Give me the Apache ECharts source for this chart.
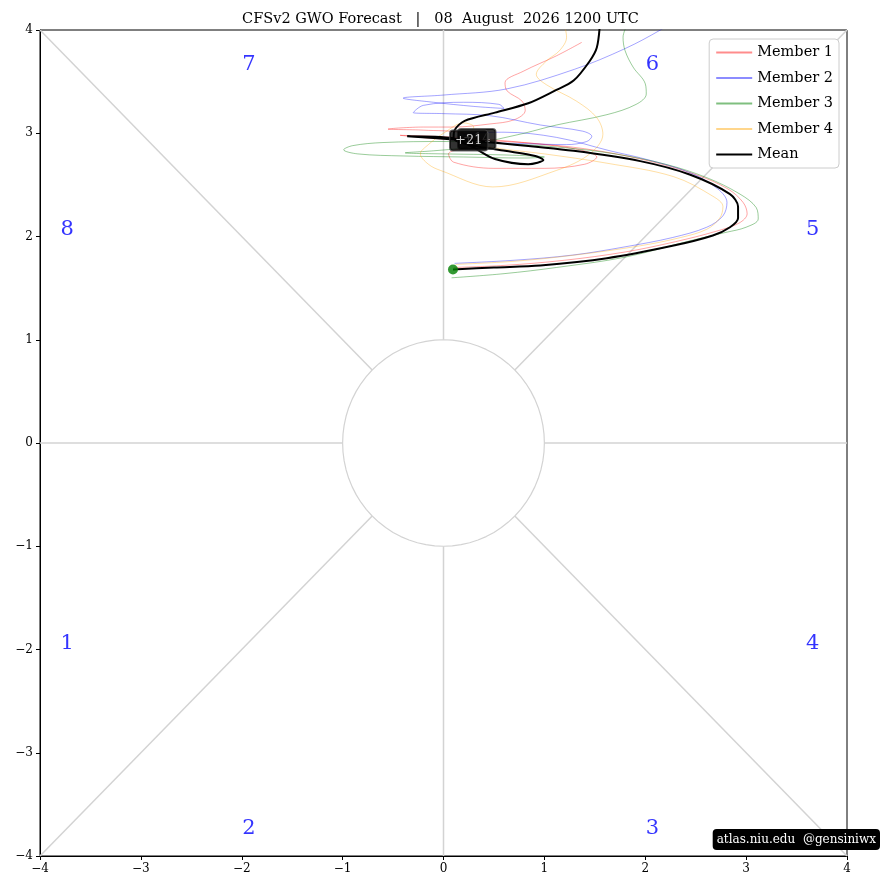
<!DOCTYPE html>
<html>
<head>
<meta charset="utf-8">
<script src="https://cdn.jsdelivr.net/npm/echarts@6/dist/echarts.min.js"></script>
<style>
html, body { margin: 0; padding: 0; background: #fff; }
#gwo { width: 881px; height: 890px; }
</style>
</head>
<body>
<div id="gwo"></div>
<script>
// ensemble member tracks (x, y)
var member1 = [[0.10,1.70],[0.6,1.72],[1.2,1.77],[1.8,1.85],[2.3,1.95],[2.7,2.05],[2.93,2.13],[3.01,2.22],[2.97,2.33],[2.82,2.46],[2.5,2.6],[2.0,2.74],[1.4,2.85],[0.8,2.91],[0.3,2.95],[-0.1,2.97],[-0.43,2.98],[-0.1,2.95],[0.4,2.93],[0.9,2.9],[1.35,2.84],[1.52,2.77],[1.4,2.7],[1.0,2.66],[0.5,2.66],[0.1,2.72],[0.05,2.8],[0.3,2.9],[0.2,3.0],[-0.2,3.03],[-0.55,3.04],[-0.2,3.06],[0.1,3.06],[0.46,3.09],[0.7,3.13],[0.81,3.22],[0.78,3.31],[0.63,3.41],[0.61,3.49],[0.79,3.60],[1.12,3.75],[1.37,3.88]];
var member2 = [[0.11,1.74],[0.7,1.77],[1.28,1.82],[1.8,1.9],[2.27,1.99],[2.61,2.09],[2.77,2.2],[2.81,2.33],[2.72,2.46],[2.44,2.62],[2.0,2.75],[1.65,2.83],[1.12,2.96],[0.6,3.01],[0.2,2.98],[0.3,2.92],[0.8,2.9],[1.22,2.89],[1.42,2.92],[1.47,2.97],[1.38,3.02],[0.96,3.08],[0.46,3.17],[0.0,3.19],[-0.3,3.2],[-0.2,3.27],[0.2,3.3],[0.55,3.28],[0.6,3.24],[0.3,3.26],[-0.1,3.3],[-0.4,3.34],[0.0,3.37],[0.63,3.43],[1.3,3.62],[1.8,3.82],[2.15,4.0],[2.3,4.1]];
var member3 = [[0.08,1.60],[0.6,1.64],[1.12,1.70],[1.8,1.8],[2.45,1.96],[2.8,2.04],[3.0,2.09],[3.12,2.17],[3.10,2.28],[2.94,2.41],[2.61,2.57],[2.2,2.7],[1.7,2.8],[1.2,2.86],[0.6,2.9],[0.0,2.92],[-0.6,2.91],[-0.9,2.88],[-0.99,2.84],[-0.85,2.8],[-0.4,2.78],[0.2,2.77],[0.8,2.76],[1.0,2.77],[0.6,2.79],[0.0,2.8],[-0.38,2.81],[-0.1,2.83],[0.2,2.86],[0.48,2.93],[0.8,3.0],[1.12,3.08],[1.62,3.18],[1.91,3.28],[2.01,3.38],[2.0,3.48],[1.88,3.64],[1.80,3.80],[1.78,3.93],[1.82,4.05]];
var member4 = [[0.12,1.73],[0.7,1.76],[1.3,1.82],[1.95,1.91],[2.35,1.99],[2.61,2.07],[2.74,2.18],[2.77,2.29],[2.67,2.39],[2.28,2.58],[1.62,2.71],[1.0,2.8],[0.5,2.86],[0.2,2.93],[0.3,3.06],[0.2,3.1],[0.0,3.0],[-0.15,2.89],[-0.23,2.80],[-0.15,2.7],[-0.03,2.64],[0.49,2.48],[1.12,2.64],[1.45,2.80],[1.58,2.99],[1.52,3.15],[1.32,3.31],[1.02,3.47],[0.92,3.57],[1.02,3.70],[1.15,3.80],[1.22,3.93],[1.20,4.05]];
var meanTrack = [[0.094,1.68],[0.5,1.70],[0.96,1.72],[1.62,1.79],[2.27,1.91],[2.67,2.01],[2.84,2.09],[2.92,2.18],[2.92,2.29],[2.84,2.41],[2.44,2.60],[1.95,2.73],[1.29,2.83],[0.49,2.91],[0.1,2.94],[-0.36,2.97],[0.1,2.95],[0.3,2.86],[0.51,2.75],[0.84,2.70],[0.99,2.74],[0.91,2.78],[0.61,2.83],[0.3,2.88],[0.1,2.95],[0.11,3.03],[0.21,3.12],[0.51,3.20],[0.84,3.29],[1.10,3.41],[1.29,3.51],[1.45,3.70],[1.52,3.83],[1.55,4.05]];

var startPoint = [[0.094, 1.68]];
var dayLabels = [[0.33, 2.945, '+14'], [0.25, 2.93, '+21']];
var phaseLabels = [[-3.73,-1.94,'1'],[-1.93,-3.73,'2'],[2.07,-3.73,'3'],[3.66,-1.94,'4'],[3.66,2.07,'5'],[2.07,3.67,'6'],[-1.93,3.67,'7'],[-3.73,2.07,'8']];
var seriesNames = ['Member 1', 'Member 2', 'Member 3', 'Member 4', 'Mean'];

// phase-space divider lines
var r45 = Math.SQRT1_2;
var dividers = [
    [[-4,-4],[-r45,-r45]], [[4,4],[r45,r45]], [[-4,4],[-r45,r45]], [[4,-4],[r45,-r45]],
    [[-4,0],[-1,0]], [[1,0],[4,0]], [[0,-4],[0,-1]], [[0,1],[0,4]]
];
var unitCircle = [];
for (var a = 0; a <= 360; a += 5) {
    unitCircle.push([Math.cos(a * Math.PI / 180), Math.sin(a * Math.PI / 180)]);
}

var font = '"DejaVu Serif", "Liberation Serif", serif';
var chart = echarts.init(document.getElementById('gwo'));

function tickFmt(v) {
    return v < 0 ? '\u2212' + Math.abs(v) : String(v);
}

var series = [];
dividers.forEach(function (seg) {
    series.push({
        type: 'line', data: seg, symbol: 'none', silent: true, z: 1,
        lineStyle: { color: '#d3d3d3', width: 1.5 }
    });
});
series.push({
    type: 'line', data: unitCircle, symbol: 'none', silent: true, z: 1,
    lineStyle: { color: '#d3d3d3', width: 1.2 }
});

var memberData = [member1, member2, member3, member4];
var memberColors = ['rgba(255,0,0,0.45)', 'rgba(0,0,255,0.45)', 'rgba(0,128,0,0.5)', 'rgba(255,165,0,0.45)'];
memberData.forEach(function (d, i) {
    series.push({
        name: seriesNames[i], type: 'line', data: d, symbol: 'none', smooth: 0.35, z: 3,
        lineStyle: { color: memberColors[i], width: 0.8 },
        itemStyle: { color: memberColors[i] }
    });
});
series.push({
    name: seriesNames[4], type: 'line', data: meanTrack, symbol: 'none', smooth: 0.3, z: 4,
    lineStyle: { color: '#000', width: 2 }, itemStyle: { color: '#000' }
});
series.push({
    type: 'scatter', data: startPoint, symbolSize: 10, z: 5,
    itemStyle: { color: '#008000' }
});
series.push({
    type: 'scatter', data: dayLabels, symbolSize: 0, z: 6,
    label: {
        show: true, position: 'inside', formatter: function (p) { return p.value[2]; },
        color: '#fff', fontFamily: font, fontSize: 13,
        backgroundColor: '#000', borderColor: '#444', borderWidth: 1, borderRadius: 3,
        padding: [4, 5, 3, 5]
    }
});
series.push({
    type: 'scatter', data: phaseLabels, symbolSize: 0, z: 6,
    label: {
        show: true, position: 'inside', formatter: function (p) { return p.value[2]; },
        color: '#0000ff', fontFamily: font, fontSize: 21
    }
});

var option = {
    animation: false,
    backgroundColor: '#fff',
    title: {
        text: 'CFSv2 GWO Forecast   |   08  August  2026 1200 UTC',
        left: 'center', top: 7,
        textStyle: { fontFamily: font, fontSize: 14.5, fontWeight: 'normal', color: '#000' }
    },
    legend: {
        data: seriesNames, orient: 'vertical', right: 42, top: 39,
        itemWidth: 36, itemHeight: 14, itemGap: 10.5,
        padding: [6, 6, 6, 6],
        itemStyle: { opacity: 0 },
        backgroundColor: '#fff', borderColor: '#ccc', borderWidth: 1, borderRadius: 4,
        textStyle: { fontFamily: font, fontSize: 14.5, color: '#000' }
    },
    grid: { left: 40, right: 34, top: 30, bottom: 34, show: true, borderColor: '#000', borderWidth: 1 },
    xAxis: {
        type: 'value', min: -4, max: 4, interval: 1,
        axisLine: { show: true, onZero: false, lineStyle: { color: '#000' } },
        axisTick: { show: true, length: 4, lineStyle: { color: '#000' } },
        splitLine: { show: false },
        axisLabel: { formatter: tickFmt, fontFamily: font, fontSize: 12, color: '#000', margin: 7 }
    },
    yAxis: {
        type: 'value', min: -4, max: 4, interval: 1,
        axisLine: { show: true, onZero: false, lineStyle: { color: '#000' } },
        axisTick: { show: true, length: 4, lineStyle: { color: '#000' } },
        splitLine: { show: false },
        axisLabel: { formatter: tickFmt, fontFamily: font, fontSize: 12, color: '#000', margin: 7 }
    },
    graphic: [{
        type: 'text', right: 1, top: 829, z: 100,
        style: {
            text: 'atlas.niu.edu  @gensiniwx', fill: '#fff', font: '12px ' + font,
            backgroundColor: '#000', borderRadius: 4, padding: [5, 4, 4, 4]
        }
    }],
    series: series
};
chart.setOption(option);
</script>
</body>
</html>
